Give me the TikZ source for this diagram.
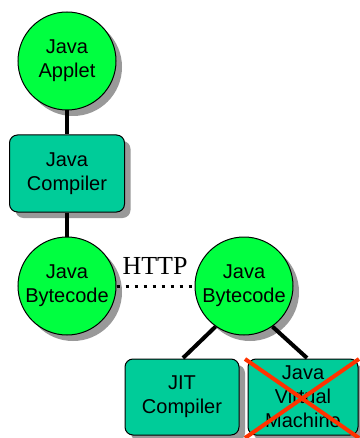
\documentclass[tikz,border=0pt]{standalone}
\usepackage{fontspec}
\setmainfont{Liberation Sans}
\newfontfamily\serifhttp{Liberation Serif}
\definecolor{circgreen}{HTML}{00FF40}
\definecolor{boxteal}{HTML}{00CC99}
\definecolor{shadowgray}{HTML}{999999}
\definecolor{crossred}{HTML}{FF3300}
\begin{document}
\begin{tikzpicture}[x=1pt,y=-1pt,
  txt/.style={font=\fontsize{20}{24}\selectfont, align=center},
  circ/.style={circle, draw=black, line width=1pt, fill=circgreen, minimum size=98pt, inner sep=0pt, txt,
    preaction={draw=none, fill=shadowgray, transform canvas={shift={(6pt,-6pt)}}}},
  bx/.style={rectangle, rounded corners=8pt, draw=black, line width=1pt, fill=boxteal, txt, inner sep=0pt,
    preaction={draw=none, fill=shadowgray, transform canvas={shift={(6pt,-6pt)}}}},
  conn/.style={line width=4pt, black},
  cross/.style={crossred, line width=4pt},
]
\useasboundingbox (0,0) rectangle (359,438);
\fill[white] (0,0) rectangle (359,438);
\node[circ] (applet) at (67,61) {Java\\Applet};
\node[bx, minimum width=115pt, minimum height=77pt] (compiler) at (67,173.5) {Java\\Compiler};
\node[circ] (bc1) at (67,286) {Java\\Bytecode};
\node[circ] (bc2) at (244,286) {Java\\Bytecode};
\node[bx, minimum width=114pt, minimum height=76pt] (jit) at (182,397) {JIT\\Compiler};
\node[bx, minimum width=110pt, minimum height=76pt] (jvm) at (303,397) {Java\\Virtual\\Machine};
\node[font=\serifhttp\fontsize{26}{28}\selectfont] (http) at (155,266) {HTTP};
\coordinate (jitT) at (183,358);
\coordinate (jvmT) at (307,358);
\draw[conn] (applet.south) -- (compiler.north);
\draw[conn] (compiler.south) -- (bc1.north);
\draw[line width=3pt, line cap=butt, dash pattern=on 3pt off 6pt] (bc1.east) -- (bc2.west);
\draw[conn] (bc2.-125) -- (jitT);
\draw[conn] (bc2.-55) -- (jvmT);
\coordinate (xa) at (245,359);
\coordinate (xb) at (359,438);
\coordinate (xc) at (359,359);
\coordinate (xd) at (245,438);
\draw[cross] (xa) -- (xb);
\draw[cross] (xc) -- (xd);
\end{tikzpicture}
\end{document}
